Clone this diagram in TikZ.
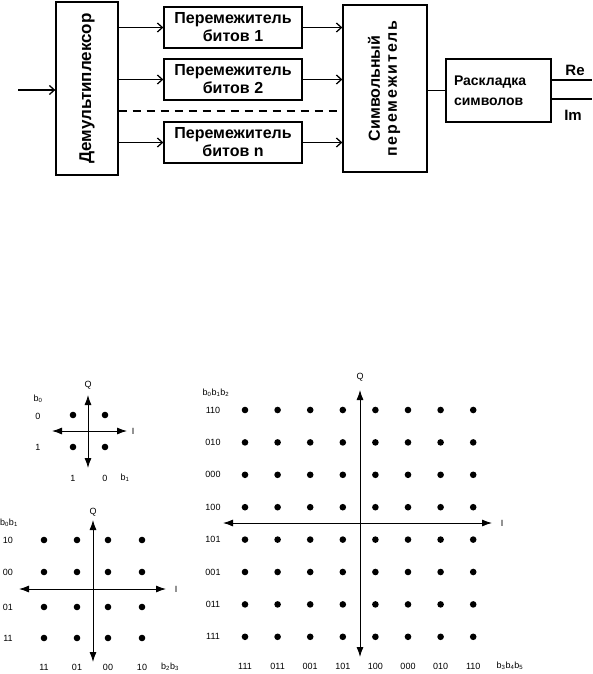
\documentclass[tikz,border=0pt]{standalone}
\usepackage{fontspec}
\setmainfont{Liberation Sans}
\usetikzlibrary{arrows.meta,positioning}
\tikzset{
  block/.style={
    draw=black, line width=1.3pt, inner sep=0pt, align=center,
    font=\bfseries\fontsize{16}{18}\selectfont
  },
  block text/.style={
    inner sep=0pt, align=center, font=\bfseries\fontsize{16}{17}\selectfont
  },
  flow/.style={
    black, line width=1.3pt, -{Straight Barb[length=5pt,width=9pt]}
  },
  axis/.style={
    black, line width=0.9pt,
    {Latex[length=10pt,width=7pt]}-{Latex[length=10pt,width=7pt]}
  },
  point/.style={fill=black},
  tick label/.style={
    inner sep=0pt, font=\fontsize{9}{10}\selectfont
  }
}

\begin{document}
\begin{tikzpicture}[x=1pt,y=-1pt]
\useasboundingbox (0,0) rectangle (592,674);

% верхняя часть: структурная схема
\node[block, minimum width=62pt, minimum height=173pt] (demux) at (87,88.5) {};
\node[block text, rotate=90, font=\bfseries\fontsize{17}{18}\selectfont]
  at (demux) {Демультиплексор};
\node[block, minimum width=138pt, minimum height=41pt] (ilvA) at (233,27.5)
  {Перемежитель\\битов 1};
\node[block, minimum width=138pt, minimum height=41pt] (ilvB) at (233,79.5)
  {Перемежитель\\битов 2};
\node[block, minimum width=138pt, minimum height=41pt] (ilvN) at (233,142.5)
  {Перемежитель\\битов n};
\node[block, minimum width=84pt, minimum height=167pt] (sym) at (385,88.5) {};
\node[block text, rotate=90, yshift=1pt] at (sym)
  {Символьный\\{\addfontfeatures{LetterSpace=12}перемежитель}};
\node[block, align=left, text width=89pt, inner xsep=8pt, minimum height=63pt,
  font=\bfseries\fontsize{14}{20}\selectfont] (map) at (498.5,90.5)
  {Раскладка\\символов};

\coordinate (in) at (18,90);
\coordinate (reOut) at (592,80);
\coordinate (imOut) at (592,99);
\draw[flow] (in) -- (in -| demux.west);
\foreach \b in {ilvA,ilvB,ilvN}{
  \draw[flow] (\b.west -| demux.east) -- (\b.west);
  \draw[flow] (\b.east) -- (\b.east -| sym.west);
}
\draw[line width=1.3pt, dash pattern=on 8pt off 6pt]
  (demux.east |- 0,111) -- (sym.west |- 0,111);
\draw[line width=1.3pt] (map.west -| sym.east) -- (map.west);
\draw[line width=1.3pt] (reOut -| map.east) -- (reOut);
\draw[line width=1.3pt] (imOut -| map.east) -- (imOut);
\node[block text, font=\bfseries\fontsize{15}{16}\selectfont] (re) at (575,70) {Re};
\node[block text, font=\bfseries\fontsize{15}{16}\selectfont] (im) at (573,115) {Im};

% созвездие 4 точки
\begin{scope}
  \coordinate (aL) at (52,431);
  \coordinate (aR) at (127,431);
  \coordinate (aT) at (88,395);
  \coordinate (aB) at (88,468);
  \draw[axis] (aL) -- (aR);
  \draw[axis] (aT) -- (aB);
  \foreach \x in {73,105}
    \foreach \y in {415,447}
      \fill[point] (\x,\y) circle (3.3pt);
  \node[tick label] at (88,385) {Q};
  \node[tick label] at (133,431) {I};
  \node[tick label] at (38,399) {b\textsubscript{0}};
  \node[tick label] at (38,416) {0};
  \node[tick label] at (38,447) {1};
  \node[tick label] at (73,478) {1};
  \node[tick label] at (105,478) {0};
  \node[tick label] at (125,478) {b\textsubscript{1}};
\end{scope}

% созвездие 16 точек
\begin{scope}
  \coordinate (bL) at (19,589);
  \coordinate (bR) at (166,589);
  \coordinate (bT) at (93,520);
  \coordinate (bB) at (93,662);
  \draw[axis] (bL) -- (bR);
  \draw[axis] (bT) -- (bB);
  \foreach \x in {44,77,108,142}
    \foreach \y in {540,572,607,638}
      \fill[point] (\x,\y) circle (3.3pt);
  \node[tick label] at (93,512) {Q};
  \node[tick label] at (176,589) {I};
  \node[tick label] at (9,523) {b\textsubscript{0}b\textsubscript{1}};
  \foreach \t [count=\i] in {10,00,01,11}{
    \pgfmathsetmacro{\yy}{{540,572,607,638}[\i-1]}
    \node[tick label] at (8,\yy) {\t};
  }
  \foreach \t [count=\i] in {11,01,00,10}{
    \pgfmathsetmacro{\xx}{{44,77,108,142}[\i-1]}
    \node[tick label] at (\xx,667) {\t};
  }
  \node[tick label] at (170,667) {b\textsubscript{2}b\textsubscript{3}};
\end{scope}

% созвездие 64 точки
\begin{scope}
  \coordinate (cL) at (223,523);
  \coordinate (cR) at (492,523);
  \coordinate (cT) at (360,390);
  \coordinate (cB) at (360,657);
  \draw[axis] (cL) -- (cR);
  \draw[axis] (cT) -- (cB);
  \foreach \i in {0,...,7}
    \foreach \j in {0,...,7}
      \fill[point] (245+32.6*\i,410+32.4*\j) circle (3.3pt);
  \node[tick label] at (360,377) {Q};
  \node[tick label] at (502,523) {I};
  \node[tick label] at (216,393) {b\textsubscript{0}b\textsubscript{1}b\textsubscript{2}};
  \foreach \t [count=\j from 0] in {110,010,000,100,101,001,011,111}
    \node[tick label] at (213,410+32.4*\j) {\t};
  \foreach \t [count=\i from 0] in {111,011,001,101,100,000,010,110}
    \node[tick label] at (245+32.6*\i,666) {\t};
  \node[tick label] at (510,666) {b\textsubscript{3}b\textsubscript{4}b\textsubscript{5}};
\end{scope}

\end{tikzpicture}
\end{document}
